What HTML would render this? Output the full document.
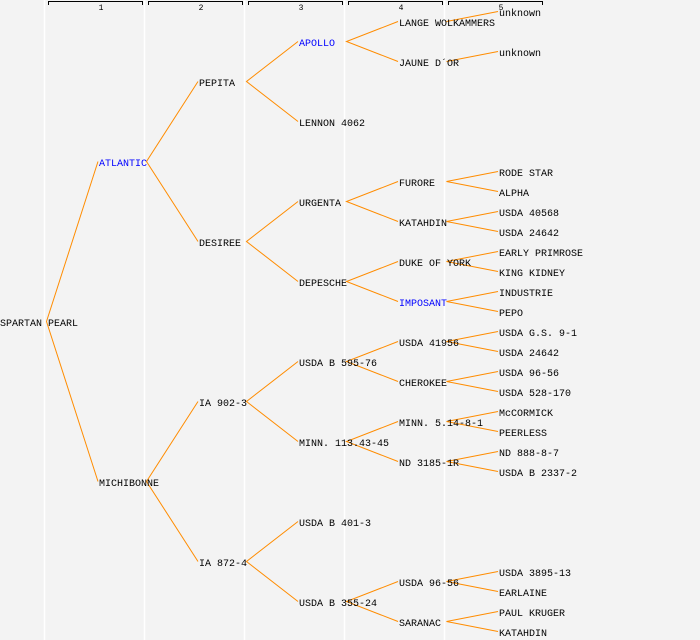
<!DOCTYPE html>
<html><head><meta charset="utf-8"><style>
html,body{margin:0;padding:0;background:#f3f3f3;}
svg{display:block;}
text{font-family:"Liberation Mono",monospace;font-size:10px;fill:#000;}
.b{fill:#0000ff;}
.h{font-size:8px;text-anchor:middle;}
</style></head><body>
<svg width="700" height="640" xmlns="http://www.w3.org/2000/svg">
<rect width="700" height="640" fill="#f3f3f3"/>
<g stroke="#fff" stroke-width="1.5">
<line x1="44.5" y1="0" x2="44.5" y2="640"/><line x1="144.5" y1="0" x2="144.5" y2="640"/><line x1="244.5" y1="0" x2="244.5" y2="640"/><line x1="344.5" y1="0" x2="344.5" y2="640"/><line x1="444.5" y1="0" x2="444.5" y2="640"/>
</g>
<g stroke="#000" fill="none" stroke-width="1">
<path d="M48.5 5V1.5H142.5V5"/><path d="M148.5 5V1.5H242.5V5"/><path d="M248.5 5V1.5H342.5V5"/><path d="M348.5 5V1.5H442.5V5"/><path d="M448.5 5V1.5H542.5V5"/>
</g>
<text class="h" x="101" y="10">1</text><text class="h" x="201" y="10">2</text><text class="h" x="301" y="10">3</text><text class="h" x="401" y="10">4</text><text class="h" x="501" y="10">5</text>
<path fill="none" stroke="#ff8c00" stroke-width="1" d="
M98 161.5L46.5 321.5L98 481.5
M198 81.5L146.5 161.5L198 241.5
M198 401.5L146.5 481.5L198 561.5
M298 41.5L246.5 81.5L298 121.5
M298 201.5L246.5 241.5L298 281.5
M298 361.5L246.5 401.5L298 441.5
M298 521.5L246.5 561.5L298 601.5
M398 21.5L346.5 41.5L398 61.5
M398 181.5L346.5 201.5L398 221.5
M398 261.5L346.5 281.5L398 301.5
M398 341.5L346.5 361.5L398 381.5
M398 421.5L346.5 441.5L398 461.5
M398 581.5L346.5 601.5L398 621.5
M446.5 21.5L498 11.5
M446.5 61.5L498 51.5
M498 171.5L446.5 181.5L498 191.5
M498 211.5L446.5 221.5L498 231.5
M498 251.5L446.5 261.5L498 271.5
M498 291.5L446.5 301.5L498 311.5
M498 331.5L446.5 341.5L498 351.5
M498 371.5L446.5 381.5L498 391.5
M498 411.5L446.5 421.5L498 431.5
M498 451.5L446.5 461.5L498 471.5
M498 571.5L446.5 581.5L498 591.5
M498 611.5L446.5 621.5L498 631.5"/>
<text x="0" y="326">SPARTAN PEARL</text>
<text x="99" y="166" class="b">ATLANTIC</text>
<text x="99" y="486">MICHIBONNE</text>
<text x="199" y="86">PEPITA</text>
<text x="199" y="246">DESIREE</text>
<text x="199" y="406">IA 902-3</text>
<text x="199" y="566">IA 872-4</text>
<text x="299" y="46" class="b">APOLLO</text>
<text x="299" y="126">LENNON 4062</text>
<text x="299" y="206">URGENTA</text>
<text x="299" y="286">DEPESCHE</text>
<text x="299" y="366">USDA B 595-76</text>
<text x="299" y="446">MINN. 113.43-45</text>
<text x="299" y="526">USDA B 401-3</text>
<text x="299" y="606">USDA B 355-24</text>
<text x="399" y="26">LANGE WOLKAMMERS</text>
<text x="399" y="66">JAUNE D´OR</text>
<text x="399" y="186">FURORE</text>
<text x="399" y="226">KATAHDIN</text>
<text x="399" y="266">DUKE OF YORK</text>
<text x="399" y="306" class="b">IMPOSANT</text>
<text x="399" y="346">USDA 41956</text>
<text x="399" y="386">CHEROKEE</text>
<text x="399" y="426">MINN. 5.14-8-1</text>
<text x="399" y="466">ND 3185-1R</text>
<text x="399" y="586">USDA 96-56</text>
<text x="399" y="626">SARANAC</text>
<text x="499" y="16">unknown</text>
<text x="499" y="56">unknown</text>
<text x="499" y="176">RODE STAR</text>
<text x="499" y="196">ALPHA</text>
<text x="499" y="216">USDA 40568</text>
<text x="499" y="236">USDA 24642</text>
<text x="499" y="256">EARLY PRIMROSE</text>
<text x="499" y="276">KING KIDNEY</text>
<text x="499" y="296">INDUSTRIE</text>
<text x="499" y="316">PEPO</text>
<text x="499" y="336">USDA G.S. 9-1</text>
<text x="499" y="356">USDA 24642</text>
<text x="499" y="376">USDA 96-56</text>
<text x="499" y="396">USDA 528-170</text>
<text x="499" y="416">McCORMICK</text>
<text x="499" y="436">PEERLESS</text>
<text x="499" y="456">ND 888-8-7</text>
<text x="499" y="476">USDA B 2337-2</text>
<text x="499" y="576">USDA 3895-13</text>
<text x="499" y="596">EARLAINE</text>
<text x="499" y="616">PAUL KRUGER</text>
<text x="499" y="636">KATAHDIN</text>
</svg>
</body></html>
